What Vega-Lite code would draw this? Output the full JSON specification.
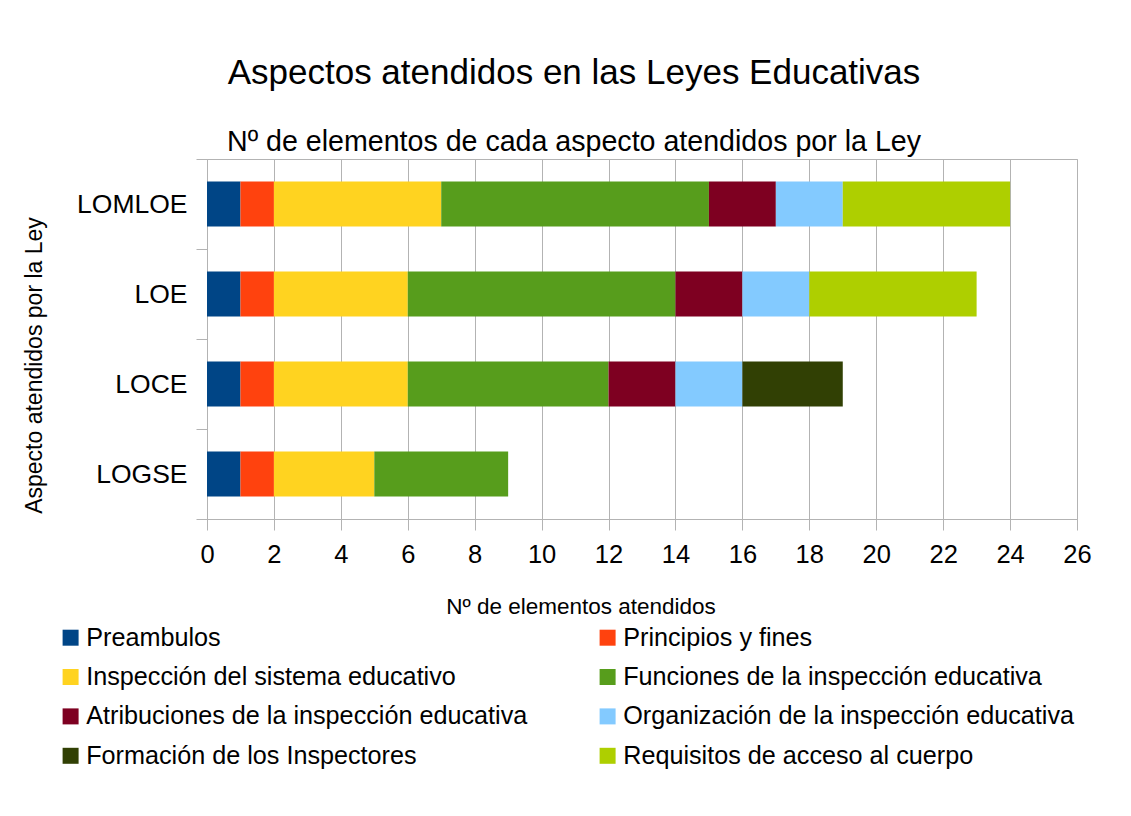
{
  "$schema": "https://vega.github.io/schema/vega-lite/v6.json",
  "width": 870,
  "height": 360,
  "autosize": {"type": "none"},
  "padding": {"left": 207, "top": 159, "right": 54, "bottom": 297},
  "background": "white",
  "title": {
    "text": "Aspectos atendidos en las Leyes Educativas",
    "subtitle": "Nº de elementos de cada aspecto atendidos por la Ley",
    "anchor": "middle",
    "frame": "group",
    "dx": -68,
    "font": "Liberation Sans",
    "subtitleFont": "Liberation Sans",
    "fontSize": 35,
    "subtitleFontSize": 28.6,
    "fontWeight": "normal",
    "subtitleFontWeight": "normal",
    "color": "#000000",
    "subtitleColor": "#000000",
    "subtitlePadding": 37,
    "offset": -11
  },
  "data": {
    "values": [
      {"ley": "LOMLOE", "aspecto": "Preambulos", "orden": 1, "n": 1},
      {"ley": "LOMLOE", "aspecto": "Principios y fines", "orden": 2, "n": 1},
      {"ley": "LOMLOE", "aspecto": "Inspección del sistema educativo", "orden": 3, "n": 5},
      {"ley": "LOMLOE", "aspecto": "Funciones de la inspección educativa", "orden": 4, "n": 8},
      {"ley": "LOMLOE", "aspecto": "Atribuciones de la inspección educativa", "orden": 5, "n": 2},
      {"ley": "LOMLOE", "aspecto": "Organización de la inspección educativa", "orden": 6, "n": 2},
      {"ley": "LOMLOE", "aspecto": "Requisitos de acceso al cuerpo", "orden": 8, "n": 5},
      {"ley": "LOE", "aspecto": "Preambulos", "orden": 1, "n": 1},
      {"ley": "LOE", "aspecto": "Principios y fines", "orden": 2, "n": 1},
      {"ley": "LOE", "aspecto": "Inspección del sistema educativo", "orden": 3, "n": 4},
      {"ley": "LOE", "aspecto": "Funciones de la inspección educativa", "orden": 4, "n": 8},
      {"ley": "LOE", "aspecto": "Atribuciones de la inspección educativa", "orden": 5, "n": 2},
      {"ley": "LOE", "aspecto": "Organización de la inspección educativa", "orden": 6, "n": 2},
      {"ley": "LOE", "aspecto": "Requisitos de acceso al cuerpo", "orden": 8, "n": 5},
      {"ley": "LOCE", "aspecto": "Preambulos", "orden": 1, "n": 1},
      {"ley": "LOCE", "aspecto": "Principios y fines", "orden": 2, "n": 1},
      {"ley": "LOCE", "aspecto": "Inspección del sistema educativo", "orden": 3, "n": 4},
      {"ley": "LOCE", "aspecto": "Funciones de la inspección educativa", "orden": 4, "n": 6},
      {"ley": "LOCE", "aspecto": "Atribuciones de la inspección educativa", "orden": 5, "n": 2},
      {"ley": "LOCE", "aspecto": "Organización de la inspección educativa", "orden": 6, "n": 2},
      {"ley": "LOCE", "aspecto": "Formación de los Inspectores", "orden": 7, "n": 3},
      {"ley": "LOGSE", "aspecto": "Preambulos", "orden": 1, "n": 1},
      {"ley": "LOGSE", "aspecto": "Principios y fines", "orden": 2, "n": 1},
      {"ley": "LOGSE", "aspecto": "Inspección del sistema educativo", "orden": 3, "n": 3},
      {"ley": "LOGSE", "aspecto": "Funciones de la inspección educativa", "orden": 4, "n": 4}
    ]
  },
  "mark": {"type": "bar", "height": {"band": 0.5}, "strokeWidth": 0},
  "encoding": {
    "y": {
      "field": "ley",
      "type": "nominal",
      "sort": ["LOMLOE", "LOE", "LOCE", "LOGSE"],
      "scale": {"paddingInner": 0, "paddingOuter": 0},
      "axis": {
        "title": "Aspecto atendidos por la Ley",
        "titleFont": "Liberation Sans",
        "titleFontSize": 23,
        "titleFontWeight": "normal",
        "titleColor": "#000000",
        "titleAngle": -90,
        "titleX": -166,
        "titleY": 206,
        "titleAlign": "center",
        "titleBaseline": "alphabetic",
        "labelFont": "Liberation Sans",
        "labelFontSize": 26.5,
        "labelColor": "#000000",
        "labelPadding": 9,
        "tickSize": 11,
        "tickColor": "#b3b3b3",
        "domainColor": "#b3b3b3",
        "tickBand": "extent",
        "grid": false
      }
    },
    "x": {
      "field": "n",
      "type": "quantitative",
      "stack": "zero",
      "scale": {"domain": [0, 26], "nice": false},
      "axis": {
        "title": "Nº de elementos atendidos",
        "values": [0, 2, 4, 6, 8, 10, 12, 14, 16, 18, 20, 22, 24, 26],
        "titleFont": "Liberation Sans",
        "titleFontSize": 22.5,
        "titleFontWeight": "normal",
        "titleColor": "#000000",
        "titleX": 373.5,
        "titleY": 94,
        "titleAlign": "center",
        "titleBaseline": "alphabetic",
        "labelFont": "Liberation Sans",
        "labelFontSize": 25.5,
        "labelColor": "#000000",
        "labelPadding": 12,
        "labelFlush": false,
        "labelOverlap": false,
        "tickSize": 11,
        "tickColor": "#b3b3b3",
        "domainColor": "#b3b3b3",
        "grid": true,
        "gridColor": "#b3b3b3"
      }
    },
    "color": {
      "field": "aspecto",
      "type": "nominal",
      "scale": {
        "domain": [
          "Preambulos",
          "Principios y fines",
          "Inspección del sistema educativo",
          "Funciones de la inspección educativa",
          "Atribuciones de la inspección educativa",
          "Organización de la inspección educativa",
          "Formación de los Inspectores",
          "Requisitos de acceso al cuerpo"
        ],
        "range": ["#004586", "#ff420e", "#ffd320", "#579d1c", "#7e0021", "#83caff", "#314004", "#aecf00"]
      },
      "legend": {
        "orient": "none",
        "direction": "horizontal",
        "legendX": -149,
        "legendY": 466,
        "columns": 2,
        "title": null,
        "padding": 0,
        "symbolType": "square",
        "symbolSize": 256,
        "symbolStrokeWidth": 0,
        "labelFont": "Liberation Sans",
        "labelFontSize": 25.2,
        "labelColor": "#000000",
        "labelLimit": 700,
        "labelOffset": 3,
        "rowPadding": 13.4,
        "columnPadding": 67
      }
    },
    "order": {"field": "orden", "type": "quantitative"}
  },
  "config": {
    "view": {"stroke": "#b3b3b3", "strokeWidth": 1},
    "font": "Liberation Sans"
  }
}
